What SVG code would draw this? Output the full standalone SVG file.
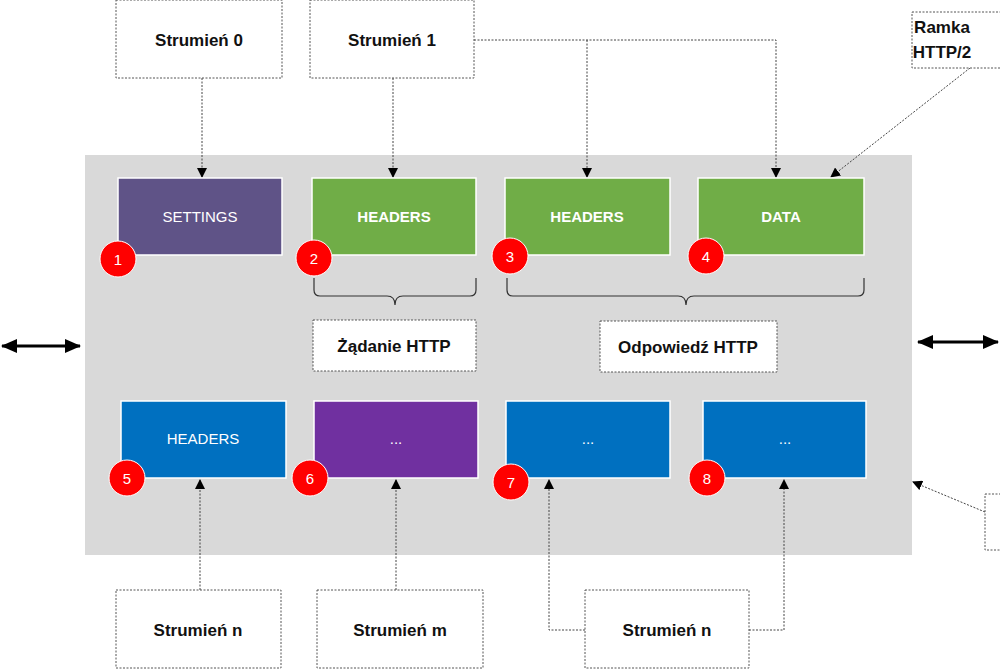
<svg xmlns="http://www.w3.org/2000/svg" width="1000" height="669" viewBox="0 0 1000 669">
<style>
.lb{fill:#fff;stroke:#555;stroke-width:1;stroke-dasharray:2,1.5}
.t{font-family:"Liberation Sans",sans-serif;font-size:17px;font-weight:bold;fill:#111;text-anchor:middle}
.w{font-family:"Liberation Sans",sans-serif;font-size:15px;fill:#fff;text-anchor:middle}
.wb{font-weight:bold}
.fr{stroke:#fff;stroke-width:1.5}
.c{fill:#f00;stroke:#fff;stroke-width:1}
.ct{font-family:"Liberation Sans",sans-serif;font-size:15px;fill:#fff;text-anchor:middle}
.dl{fill:none;stroke:#444;stroke-width:1;stroke-dasharray:2,1.5}
.br{fill:none;stroke:#333;stroke-width:1.2}
</style>
<defs>
<marker id="a" markerWidth="10" markerHeight="10" refX="9" refY="5" orient="auto" markerUnits="userSpaceOnUse"><path d="M0,0L10,5L0,10z" fill="#000"/></marker>
<marker id="b" markerWidth="16" markerHeight="14" refX="15" refY="7" orient="auto" markerUnits="userSpaceOnUse"><path d="M0,0L16,7L0,14z" fill="#000"/></marker>
<marker id="bs" markerWidth="16" markerHeight="14" refX="1" refY="7" orient="auto" markerUnits="userSpaceOnUse"><path d="M16,0L0,7L16,14z" fill="#000"/></marker>
</defs>
<rect width="1000" height="669" fill="#fff"/>
<rect x="85" y="155" width="827" height="400" fill="#d9d9d9"/>
<g id="connectors">
<line class="dl" x1="202" y1="78" x2="202" y2="177" marker-end="url(#a)"/>
<line class="dl" x1="393" y1="78" x2="393" y2="177" marker-end="url(#a)"/>
<polyline class="dl" points="474,40 776,40 776,177" marker-end="url(#a)"/>
<line class="dl" x1="587" y1="40" x2="587" y2="177" marker-end="url(#a)"/>
<line class="dl" x1="200" y1="590" x2="200" y2="480" marker-end="url(#a)"/>
<line class="dl" x1="396" y1="590" x2="396" y2="480" marker-end="url(#a)"/>
<polyline class="dl" points="585,630 549,630 549,480" marker-end="url(#a)"/>
<polyline class="dl" points="749,630 784,630 784,480" marker-end="url(#a)"/>
<line class="dl" x1="970" y1="68" x2="831" y2="177" marker-end="url(#a)"/>
<line class="dl" x1="985" y1="512" x2="913" y2="482" marker-end="url(#a)"/>
<line stroke="#000" stroke-width="3" x1="2" y1="346" x2="80" y2="346" marker-start="url(#bs)" marker-end="url(#b)"/>
<line stroke="#000" stroke-width="3" x1="918" y1="342" x2="998" y2="342" marker-start="url(#bs)" marker-end="url(#b)"/>
<path class="br" d="M314,278v12q0,6 6,6h67q8,0 8,9q0,-9 8,-9h67q6,0 6,-6v-12"/>
<path class="br" d="M507,278v12q0,6 6,6h165q8,0 8,9q0,-9 8,-9h164q6,0 6,-6v-12"/>
</g>
<g id="s0"><rect class="lb" x="116" y="0" width="166" height="78"/><text class="t" x="199" y="46">Strumień 0</text></g>
<g id="s1"><rect class="lb" x="310" y="0" width="164" height="78"/><text class="t" x="392" y="46">Strumień 1</text></g>
<g id="ramka"><rect class="lb" x="912" y="12" width="100" height="56"/><text class="t" x="942" y="33" text-anchor="start">Ramka</text><text class="t" x="942" y="58" text-anchor="start">HTTP/2</text></g>
<g id="rb"><rect class="lb" x="985" y="494" width="30" height="56"/></g>
<g id="n1"><rect class="fr" x="118" y="178" width="164" height="77" fill="#5f5387"/><text class="w" x="200" y="222">SETTINGS</text><circle class="c" cx="118" cy="259" r="18"/><text class="ct" x="118" y="265">1</text></g>
<g id="n2"><rect class="fr" x="312" y="178" width="164" height="77" fill="#70ad47"/><text class="w wb" x="394" y="222">HEADERS</text><circle class="c" cx="314" cy="258" r="18"/><text class="ct" x="314" y="264">2</text></g>
<g id="n3"><rect class="fr" x="505" y="178" width="165" height="77" fill="#70ad47"/><text class="w wb" x="587" y="222">HEADERS</text><circle class="c" cx="510" cy="256" r="18"/><text class="ct" x="510" y="262">3</text></g>
<g id="n4"><rect class="fr" x="698" y="178" width="166" height="77" fill="#70ad47"/><text class="w wb" x="781" y="222">DATA</text><circle class="c" cx="706" cy="256" r="18"/><text class="ct" x="706" y="262">4</text></g>
<g id="req"><rect class="lb" x="313" y="320" width="163" height="51"/><text class="t" x="394" y="352">Żądanie HTTP</text></g>
<g id="resp"><rect class="lb" x="600" y="321" width="177" height="51"/><text class="t" x="688" y="353">Odpowiedź HTTP</text></g>
<g id="n5"><rect class="fr" x="121" y="401" width="165" height="77" fill="#0070c0"/><text class="w" x="203" y="444">HEADERS</text><circle class="c" cx="127" cy="478" r="18"/><text class="ct" x="127" y="484">5</text></g>
<g id="n6"><rect class="fr" x="314" y="401" width="164" height="77" fill="#7030a0"/><text class="w" x="396" y="444">...</text><circle class="c" cx="310" cy="478" r="18"/><text class="ct" x="310" y="484">6</text></g>
<g id="n7"><rect class="fr" x="506" y="401" width="164" height="77" fill="#0070c0"/><text class="w" x="588" y="444">...</text><circle class="c" cx="511" cy="482" r="18"/><text class="ct" x="511" y="488">7</text></g>
<g id="n8"><rect class="fr" x="703" y="401" width="163" height="77" fill="#0070c0"/><text class="w" x="785" y="444">...</text><circle class="c" cx="707" cy="478" r="18"/><text class="ct" x="707" y="484">8</text></g>
<g id="sn"><rect class="lb" x="116" y="590" width="165" height="78"/><text class="t" x="198" y="636">Strumień n</text></g>
<g id="sm"><rect class="lb" x="317" y="590" width="166" height="78"/><text class="t" x="400" y="636">Strumień m</text></g>
<g id="sn2"><rect class="lb" x="585" y="590" width="164" height="78"/><text class="t" x="667" y="636">Strumień n</text></g>
</svg>
